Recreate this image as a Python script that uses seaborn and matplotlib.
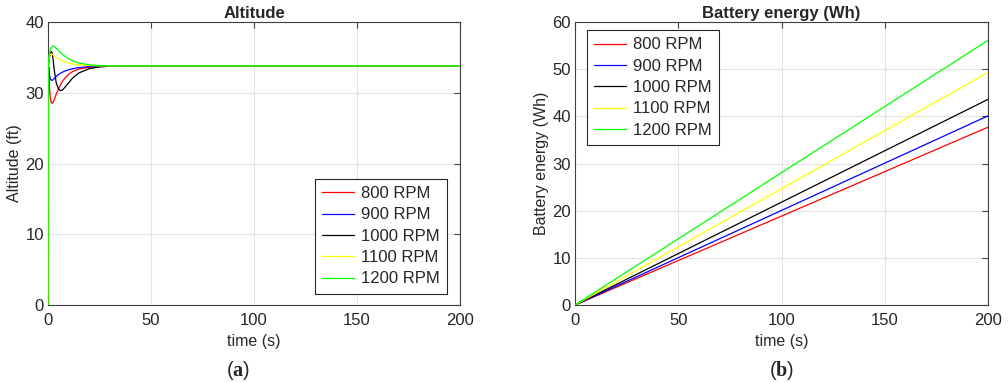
import numpy as np
import pandas as pd
import matplotlib
matplotlib.use("Agg")
import matplotlib.pyplot as plt
import seaborn as sns

# data
rpm_labels = ['800 RPM', '900 RPM', '1000 RPM', '1100 RPM', '1200 RPM']
line_colors = ['#ff0000', '#0000ff', '#000000', '#ffff00', '#00ff00']

t_alt = [0, 0.15, 0.4, 0.7, 1.0, 1.5, 2.0, 2.5, 3, 4, 5, 6, 7, 8, 10, 12, 15, 20, 25, 30, 40, 200]
alt_800 = [0, 33.8, 33.5, 31.0, 29.6, 28.7, 28.5, 28.7, 29.0, 29.8, 30.5, 31.1, 31.6, 32.0, 32.6, 33.0, 33.35, 33.6, 33.7, 33.75, 33.8, 33.8]
alt_900 = [0, 33.8, 33.6, 32.6, 32.1, 31.8, 31.75, 31.85, 32.0, 32.3, 32.55, 32.75, 32.9, 33.05, 33.25, 33.4, 33.55, 33.7, 33.75, 33.8, 33.8, 33.8]
alt_1000 = [0, 33.8, 34.3, 35.0, 35.4, 35.8, 35.7, 34.6, 33.3, 31.4, 30.6, 30.3, 30.4, 30.7, 31.4, 32.1, 32.8, 33.4, 33.65, 33.75, 33.8, 33.8]
alt_1100 = [0, 33.8, 34.6, 35.2, 35.4, 35.5, 35.45, 35.35, 35.2, 35.0, 34.8, 34.65, 34.5, 34.4, 34.2, 34.05, 33.95, 33.85, 33.8, 33.8, 33.8, 33.8]
alt_1200 = [0, 33.8, 34.8, 35.6, 36.0, 36.4, 36.55, 36.6, 36.55, 36.3, 36.0, 35.7, 35.45, 35.2, 34.8, 34.5, 34.2, 33.95, 33.85, 33.8, 33.8, 33.8]

t_bat = [0, 200]
bat_800 = [0, 37.7]
bat_900 = [0, 40.1]
bat_1000 = [0, 43.6]
bat_1100 = [0, 49.3]
bat_1200 = [0, 56.1]

alt_df = pd.concat([
    pd.DataFrame({'time': t_alt, 'value': v, 'rpm': lab})
    for v, lab in zip([alt_800, alt_900, alt_1000, alt_1100, alt_1200], rpm_labels)
], ignore_index=True)
bat_df = pd.concat([
    pd.DataFrame({'time': t_bat, 'value': v, 'rpm': lab})
    for v, lab in zip([bat_800, bat_900, bat_1000, bat_1100, bat_1200], rpm_labels)
], ignore_index=True)

sns.set_style("white")
plt.rcParams['font.family'] = ['Liberation Sans', 'DejaVu Sans']
plt.rcParams['mathtext.fontset'] = 'custom'
plt.rcParams['mathtext.rm'] = 'Liberation Serif'
plt.rcParams['mathtext.bf'] = 'Liberation Serif:bold'

fig = plt.figure(figsize=(10.08, 3.82), dpi=100)
W, H = 1008, 382
ax1 = fig.add_axes([48 / W, 1 - 305 / H, 412 / W, 283 / H])
ax2 = fig.add_axes([575 / W, 1 - 305 / H, 413 / W, 283 / H])

palette = dict(zip(rpm_labels, line_colors))
sns.lineplot(data=alt_df, x='time', y='value', hue='rpm', palette=palette,
             hue_order=rpm_labels, ax=ax1, linewidth=0.9, estimator=None, sort=False, zorder=3)
sns.lineplot(data=bat_df, x='time', y='value', hue='rpm', palette=palette,
             hue_order=rpm_labels, ax=ax2, linewidth=0.9, estimator=None, sort=False, zorder=3)

spine_c = '#404040'
for ax, ttl, ylab, ylim, yt in [(ax1, 'Altitude', 'Altitude (ft)', (0, 40), [0, 10, 20, 30, 40]),
                                 (ax2, 'Battery energy (Wh)', 'Battery energy (Wh)', (0, 60), [0, 10, 20, 30, 40, 50, 60])]:
    ax.set_xlim(0, 200)
    ax.set_ylim(*ylim)
    ax.set_xticks([0, 50, 100, 150, 200])
    ax.set_yticks(yt)
    ax.grid(True, color='#e3e3e3', linewidth=0.8)
    ax.set_axisbelow(True)
    ax.tick_params(direction='in', length=4, width=0.8, colors=spine_c,
                   labelsize=12, labelcolor='#262626', top=True, right=True, pad=3)
    ax.tick_params(axis='x', pad=6)
    for s in ax.spines.values():
        s.set_color(spine_c)
        s.set_linewidth(0.8)
    ax.set_title(ttl, fontsize=12, fontweight='bold', pad=3)
    ax.set_xlabel('time (s)', fontsize=11.5, color='#262626', labelpad=4)
    ax.set_ylabel(ylab, fontsize=11.5, color='#262626', labelpad=2)

leg_kw = dict(fontsize=12, frameon=True, fancybox=False, handlelength=1.9,
              handletextpad=0.4, borderpad=0.45, labelspacing=0.38, borderaxespad=0)
leg1 = ax1.legend(loc='lower right', bbox_to_anchor=(0.968, 0.039), **leg_kw)
leg2 = ax2.legend(loc='upper left', bbox_to_anchor=(0.029, 0.972), **leg_kw)
for leg in (leg1, leg2):
    leg.get_frame().set_edgecolor('#262626')
    leg.get_frame().set_linewidth(0.8)
    leg.get_frame().set_alpha(1)
    for line in leg.get_lines():
        line.set_linewidth(0.9)

fig.text(238 / W, 1 - 370 / H, r'($\mathbf{a}$)', ha='center', va='center', fontsize=14.5)
fig.text(782 / W, 1 - 370 / H, r'($\mathbf{b}$)', ha='center', va='center', fontsize=14.5)

fig.savefig('out.png', dpi=100)
